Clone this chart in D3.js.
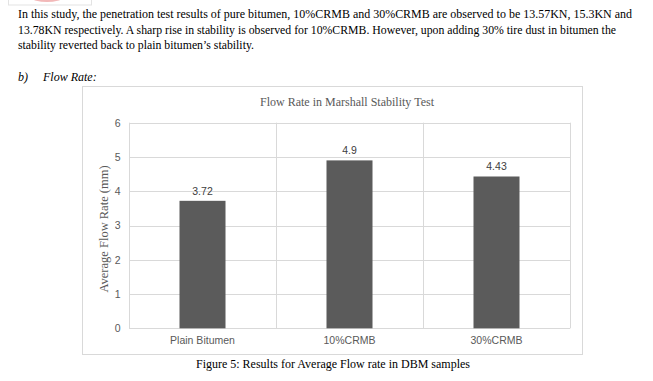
<!DOCTYPE html>
<html><head><meta charset="utf-8">
<script src="https://cdn.jsdelivr.net/npm/d3@7"></script>
<style>html,body{margin:0;padding:0;background:#fff;}svg{display:block;}</style>
</head><body>
<svg id="c" width="653" height="381"></svg>
<script>
const categories = ["Plain Bitumen", "10%CRMB", "30%CRMB"];
const values = [3.72, 4.9, 4.43];
const valueLabels = ["3.72", "4.9", "4.43"];
const yTicks = [0, 1, 2, 3, 4, 5, 6];
const chartTitle = "Flow Rate in Marshall Stability Test";
const yTitle = "Average Flow Rate (mm)";
const caption = "Figure 5: Results for Average Flow rate in DBM samples";
const paragraph = [
  "In this study, the penetration test results of pure bitumen, 10%CRMB and 30%CRMB are observed to be 13.57KN, 15.3KN and",
  "13.78KN respectively. A sharp rise in stability is observed for 10%CRMB. However, upon adding 30% tire dust in bitumen the",
  "stability reverted back to plain bitumen\u2019s stability."
];

const svg = d3.select("#c");
const serif = "'Liberation Serif','Times New Roman',serif";
const sans = "'Liberation Sans',Arial,sans-serif";

// faint cropped image at the top-left
svg.append("rect").attr("x", 8.5).attr("y", -5).attr("width", 83).attr("height", 10)
  .attr("fill", "#fff").attr("stroke", "#e3e3e3");
svg.append("ellipse").attr("cx", 47).attr("cy", -2).attr("rx", 15).attr("ry", 4)
  .attr("fill", "#f2b8b8");

// paragraph
const lineW = [614, 598, 236];
paragraph.forEach((t, i) => {
  svg.append("text").attr("x", 18).attr("y", 18 + i * 15.5)
    .attr("font-family", serif).attr("font-size", 12).attr("fill", "#000")
    .attr("textLength", lineW[i]).attr("lengthAdjust", "spacingAndGlyphs")
    .text(t);
});
svg.append("text").attr("x", 18).attr("y", 81).attr("font-family", serif)
  .attr("font-style", "italic").attr("font-size", 12).text("b)");
svg.append("text").attr("x", 43).attr("y", 81).attr("font-family", serif)
  .attr("font-style", "italic").attr("font-size", 12).text("Flow Rate:");

// chart area border
svg.append("rect").attr("x", 82.5).attr("y", 86.5).attr("width", 500).attr("height", 268)
  .attr("fill", "#fff").attr("stroke", "#d9d9d9");

const x = d3.scaleBand().domain(categories).range([129, 570]).paddingInner(0).paddingOuter(0);
const y = d3.scaleLinear().domain([0, 6]).range([328.3, 122.7]);

// horizontal grid
const gy = svg.append("g").attr("transform", "translate(129,0)")
  .call(d3.axisLeft(y).tickValues(yTicks).tickSize(-(570 - 129)).tickFormat(""));
gy.select(".domain").remove();
gy.selectAll(".tick line").attr("stroke", "#d9d9d9").attr("shape-rendering", "crispEdges");

// vertical grid at category boundaries
const bounds = categories.map(c => x(c)).concat([x.range()[1]]);
svg.append("g").selectAll("line").data(bounds).join("line")
  .attr("x1", d => Math.round(d) + 0.5).attr("x2", d => Math.round(d) + 0.5)
  .attr("y1", y(6)).attr("y2", y(0))
  .attr("stroke", "#d9d9d9");

// bars
const bw = x.bandwidth() * 0.313;
svg.append("g").selectAll("rect").data(values).join("rect")
  .attr("x", (d, i) => x(categories[i]) + x.bandwidth() / 2 - bw / 2)
  .attr("width", bw)
  .attr("y", d => y(d))
  .attr("height", d => y(0) - y(d))
  .attr("fill", "#5b5b5b");

// data labels
svg.append("g").selectAll("text").data(values).join("text")
  .attr("x", (d, i) => x(categories[i]) + x.bandwidth() / 2)
  .attr("y", d => y(d) - 6)
  .attr("text-anchor", "middle").attr("font-family", sans).attr("font-size", 10.5)
  .attr("fill", "#404040")
  .text((d, i) => valueLabels[i]);

// y tick labels
const ya = svg.append("g").attr("transform", "translate(120.5,0)")
  .call(d3.axisLeft(y).tickValues(yTicks).tickSize(0).tickPadding(0).tickFormat(d3.format("d")));
ya.select(".domain").remove();
ya.attr("font-size", null).attr("font-family", null);
ya.selectAll("text").attr("font-family", sans).attr("font-size", 10.5).attr("fill", "#595959");

// x labels
const xa = svg.append("g").attr("transform", "translate(0,336.5)")
  .call(d3.axisBottom(x).tickSize(0).tickPadding(0));
xa.select(".domain").remove();
xa.attr("font-size", null).attr("font-family", null);
xa.selectAll("text").attr("font-family", sans).attr("font-size", 10.5).attr("fill", "#595959");

// title
svg.append("text").attr("x", 347).attr("y", 106).attr("text-anchor", "middle")
  .attr("font-family", serif).attr("font-size", 12).attr("fill", "#595959").text(chartTitle);

// y title
svg.append("text").attr("transform", "translate(108,229) rotate(-90)")
  .attr("text-anchor", "middle").attr("font-family", serif).attr("font-size", 12.5)
  .attr("fill", "#595959").text(yTitle);

// caption
svg.append("text").attr("x", 333).attr("y", 368).attr("text-anchor", "middle")
  .attr("font-family", serif).attr("font-size", 12).attr("fill", "#000").text(caption);
</script>
</body></html>
